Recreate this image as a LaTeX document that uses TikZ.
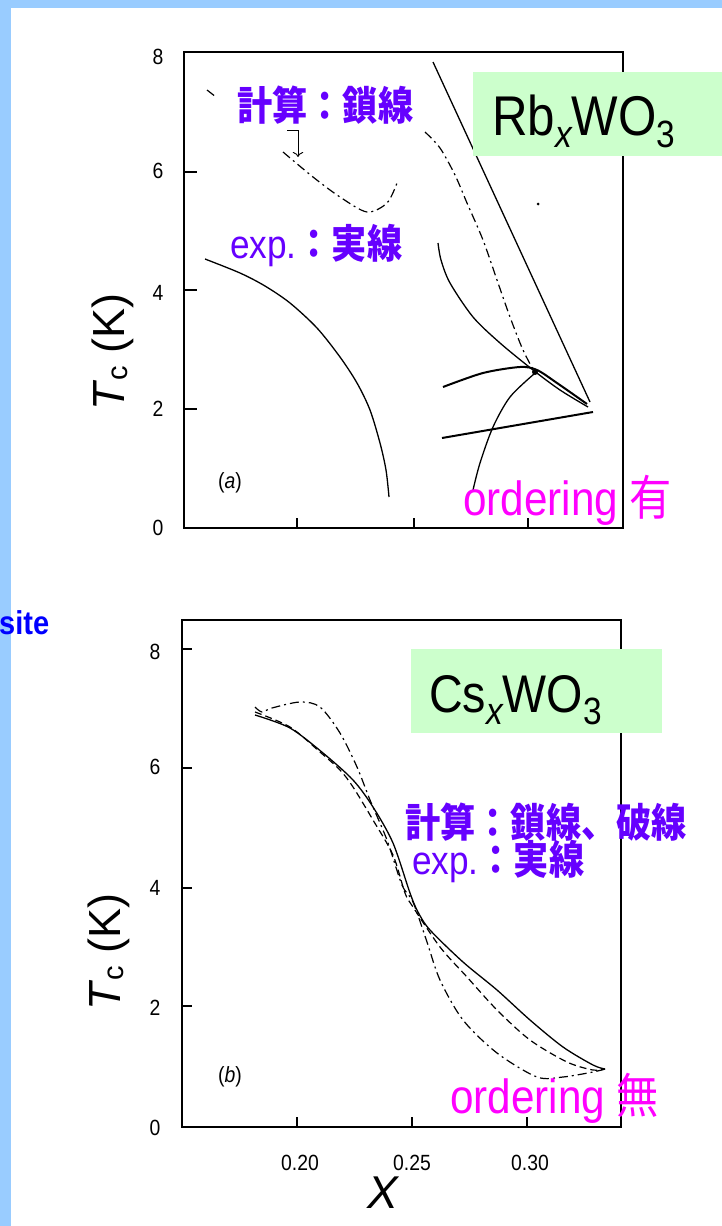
\documentclass[tikz,border=0pt]{standalone}
\usepackage{fontspec}
\setmainfont{Liberation Sans}
\newfontfamily\narrowsf{Liberation Sans}[FakeStretch=0.88]
\newfontfamily\jpsf{Noto Sans CJK JP}[FakeStretch=0.88]
\usepackage{tikz}
\usetikzlibrary{arrows.meta}

\definecolor{band}{HTML}{99CCFF}
\definecolor{boxgreen}{HTML}{CCFFCC}
\definecolor{notepurple}{HTML}{6600FF}
\definecolor{ordmag}{HTML}{FF00FF}
\definecolor{siteblue}{HTML}{0000FF}

\newcommand{\jb}{\jpsf\bfseries}
\newcommand{\lowsub}[1]{\raisebox{-12pt}{\fontsize{38}{40}\selectfont #1}}

\begin{document}
\begin{tikzpicture}[
  x=1pt, y=-1pt,
  frame/.style={line width=1.4pt},
  tick/.style={line width=1.2pt},
  ticklab/.style={font=\narrowsf\fontsize{22}{24}\selectfont, inner sep=0pt},
  expc/.style={line width=1.3pt},
  thickc/.style={line width=2pt},
  calc/.style={line width=1.2pt, dash pattern=on 9pt off 4pt on 2pt off 4pt},
  calcd/.style={line width=1.2pt, dash pattern=on 7pt off 4pt},
  note/.style={text=notepurple, inner sep=0pt, anchor=base west, font=\narrowsf\fontsize{40}{44}\selectfont},
  order/.style={text=ordmag, inner sep=0pt, anchor=base west, font=\narrowsf\fontsize{48}{52}\selectfont},
  formula/.style={fill=boxgreen, anchor=north west, inner sep=0pt, minimum height=84pt,
    text height=42pt, text depth=0pt, align=left, font=\narrowsf\fontsize{56}{60}\selectfont},
  axlab/.style={font=\fontsize{45}{50}\selectfont, inner sep=0pt, rotate=90},
  panel/.style={font=\narrowsf\fontsize{22}{24}\selectfont, inner sep=0pt}
]
\useasboundingbox (0,0) rectangle (722,1226);
\fill[white] (0,0) rectangle (722,1226);

% --- slide border ---
\fill[band] (0,0) rectangle (722,8);
\fill[band] (0,0) rectangle (11,1226);
\node[font=\narrowsf\bfseries\fontsize{33}{36}\selectfont, text=siteblue,
  anchor=base west, inner sep=0pt] (site) at (-1,634) {site};

% --- panel (a): Rb ---
\draw[frame] (184,52) rectangle (623,528);
\foreach \yy in {172,290,409} \draw[tick] (184,\yy) -- ++(13,0);
\foreach \xx in {297,414,528} \draw[tick] (\xx,528) -- ++(0,-10);
\foreach \yy/\lab in {57/8,171/6,293/4,409/2,528/0}
  \node[ticklab] (ya\lab) at (158,\yy) {\lab};
\node[panel] (pa) at (230,483) {(\textit{a})};
\node[axlab] (ylaba) at (113,352) {\textit{T}\raisebox{-3pt}{\fontsize{29}{30}\selectfont c} (K)};

% exp (solid)
\draw[expc] plot[smooth] coordinates {(205,259) (240,273) (265,286) (290,303) (317,328) (340,357) (357,383) (370,410) (380,443) (386,470) (389,497)};
\draw[expc] (433,62) -- (590,402);
\draw[expc] plot[smooth] coordinates {(438,243) (441,260) (450,283) (473,317) (500,343) (533,370) (560,390) (588,407)};
\draw[thickc] plot[smooth] coordinates {(443,387) (483,373) (520,367) (537,370) (557,383) (587,404)};
\draw[thickc] (442,438) -- (593,412);
\draw[expc] plot[smooth] coordinates {(473,490) (480,463) (493,427) (510,397) (534,374)};
\fill (535,372) circle (3pt);
\fill (538,204) circle (1.5pt);

% calc (dash-dot)
\draw[calc] (207,90) -- (216,97);
\draw[calc] plot[smooth] coordinates {(283,152) (313,177) (340,197) (367,212) (387,203) (397,183)};
\draw[calc] plot[smooth] coordinates {(425,132) (440,148) (455,175) (467,203) (483,240) (497,280) (510,317) (523,350) (535,373)};
\draw[line width=0.9pt, -{To[length=5pt]}] (287,130) -- (298,130) -- (298,157);

% labels
\node[note] (calca) at (237,120) {\jb 計算：鎖線};
\node[note] (expa) at (230,258) {exp.\jb：実線};
\node[order] (orda) at (463,515) {ordering \jpsf 有};
\node[formula, text width=249pt] (rb) at (473,72) {\hspace*{19pt}Rb\lowsub{\itshape x}WO\lowsub{3}};

% --- panel (b): Cs ---
\draw[frame] (182,620) rectangle (621,1127);
\foreach \yy in {649,768,888,1006} \draw[tick] (182,\yy) -- ++(10,0);
\foreach \xx in {297,412,527} \draw[tick] (\xx,1127) -- ++(0,-10);
\foreach \yy/\lab in {652/8,767/6,888/4,1008/2,1128/0}
  \node[ticklab] (yb\lab) at (155,\yy) {\lab};
\node[ticklab] (x20) at (300,1163) {0.20};
\node[ticklab] (x25) at (412,1163) {0.25};
\node[ticklab] (x30) at (530,1163) {0.30};
\node[panel] (pb) at (230,1077) {(\textit{b})};
\node[axlab] (ylabb) at (109,952) {\textit{T}\raisebox{-3pt}{\fontsize{29}{30}\selectfont c} (K)};
\node[font=\itshape\fontsize{46}{50}\selectfont, inner sep=0pt] (xlab) at (383,1193) {X};

% exp, calc
\draw[expc] plot[smooth] coordinates {(255,715) (290,728) (323,753) (353,780) (373,807) (393,843) (410,893) (418,912) (430,930) (463,962) (497,990) (530,1020) (563,1047) (593,1065) (605,1069)};
\draw[calcd] plot[smooth] coordinates {(255,712) (290,727) (320,752) (340,770) (353,787) (373,820) (393,855) (405,893) (413,907) (440,947) (467,977) (497,1010) (530,1040) (567,1062) (593,1070) (605,1069)};
\draw[calc] plot[smooth] coordinates {(255,707) (262,712) (272,708) (300,702) (320,707) (340,733) (357,767) (370,800) (387,840) (402,885) (413,902) (427,942) (440,980) (463,1020) (497,1053) (537,1077) (563,1077) (593,1072) (605,1069)};

% labels
\node[formula, text width=251pt, font=\narrowsf\fontsize{53}{58}\selectfont] (cs) at (411,649) {\hspace*{18pt}Cs\lowsub{\itshape x}WO\lowsub{3}};
\node[note] (calcb) at (405,837) {\jb 計算：鎖線、破線};
\node[note] (expb) at (412,874) {exp.\jb：実線};
\node[order] (ordb) at (450,1113) {ordering \jpsf 無};

\end{tikzpicture}
\end{document}
